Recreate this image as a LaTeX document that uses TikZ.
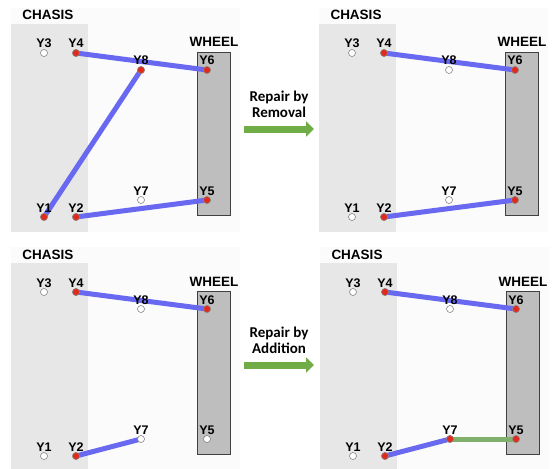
\documentclass[tikz,border=0pt]{standalone}
\usepackage{fontspec}
\setmainfont{Liberation Sans}
\newfontfamily\repairfont{Carlito}
\usetikzlibrary{arrows.meta}

\definecolor{bondblue}{RGB}{104,104,240}
\definecolor{fixgreen}{RGB}{128,176,108}
\definecolor{arrowgreen}{RGB}{112,173,71}
\definecolor{pinred}{RGB}{226,42,28}
\definecolor{chasisgray}{RGB}{231,231,231}
\definecolor{wheelgray}{RGB}{190,190,190}
\definecolor{panelbg}{RGB}{251,251,251}

\tikzset{
  hole/.style={circle, inner sep=0pt, minimum size=7pt, draw=black!55, line width=0.5pt, fill=white},
  pin/.style={hole, fill=pinred, draw=black!45},
  ylabel/.style={font=\bfseries\fontsize{12.5}{12.5}\selectfont, inner sep=0pt, anchor=base},
  title/.style={font=\bfseries\fontsize{13.5}{13.5}\selectfont, inner sep=0pt, anchor=base},
  bond/.style={line width=5pt, draw=bondblue},
  fixbond/.style={line width=5pt, draw=fixgreen},
  repair/.style={line width=7pt, draw=arrowgreen, -{Triangle[length=8pt,width=15pt]}},
  repairtext/.style={font=\repairfont\bfseries\fontsize{15}{16}\selectfont, align=center, inner sep=0pt}
}

\newcommand\board[2]{%
  \begin{scope}[shift={#2}]
    \fill[panelbg] (11,8) rectangle (240,232);
    \fill[chasisgray] (11,24) rectangle (88,232);
    \draw[fill=wheelgray, draw=black!75, line width=0.8pt] (197,52) rectangle (230,215);
    \node[title] (#1-chasis) at (48,20) {CHASIS};
    \node[title] (#1-wheel) at (214,47) {WHEEL};
    \foreach \n/\x/\y in {1/44/217, 2/76/217, 3/44/53, 4/76/53, 5/207/200, 6/207/70, 7/141/200, 8/141/70}
      \coordinate (#1-Y\n) at (\x,\y);
  \end{scope}}

\newcommand\pins[2]{%
  \foreach \n in {1,...,8}
    \node[hole] (#1-h\n) at (#1-Y\n) {};
  \foreach \n in {#2}
    \node[pin] (#1-p\n) at (#1-Y\n) {};
  \foreach \n in {1,...,8}
    \node[ylabel] (#1-l\n) at ([yshift=5pt]#1-Y\n) {Y\n};}

\begin{document}
\begin{tikzpicture}[x=1pt, y=-1pt]
\useasboundingbox (0,0) rectangle (553,468);
\clip (0,0) rectangle (553,468);

\board{a}{(0,0)}
\draw[bond] (a-Y4) -- (a-Y6);
\draw[bond] (a-Y1) -- (a-Y8);
\draw[bond] (a-Y2) -- (a-Y5);
\pins{a}{1,2,4,5,6,8}

\board{b}{(308,0)}
\draw[bond] (b-Y4) -- (b-Y6);
\draw[bond] (b-Y2) -- (b-Y5);
\pins{b}{2,4,5,6}

\board{c}{(0,239)}
\draw[bond] (c-Y4) -- (c-Y6);
\draw[bond] (c-Y2) -- (c-Y7);
\pins{c}{2,4,6}

\board{d}{(309,239)}
\draw[bond] (d-Y4) -- (d-Y6);
\draw[bond] (d-Y2) -- (d-Y7);
\draw[fixbond] (d-Y7) -- (d-Y5);
\pins{d}{2,4,5,6,7}

\coordinate (removal-from) at (244,129);
\coordinate (removal-to) at (314,129);
\draw[repair] (removal-from) -- (removal-to);
\node[repairtext] (removal) at (279,104) {Repair by\\Removal};

\coordinate (addition-from) at (244,365);
\coordinate (addition-to) at (314,365);
\draw[repair] (addition-from) -- (addition-to);
\node[repairtext] (addition) at (279,340) {Repair by\\Addition};
\end{tikzpicture}
\end{document}
